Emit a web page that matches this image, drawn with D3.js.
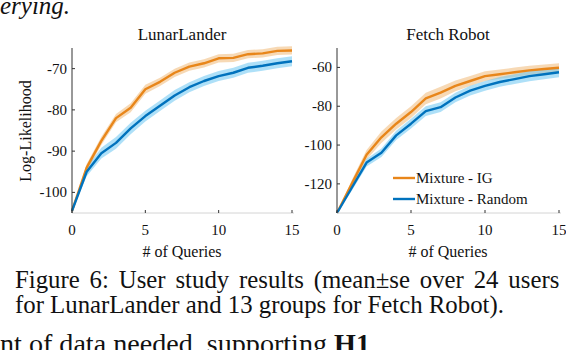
<!DOCTYPE html>
<html>
<head>
<meta charset="utf-8">
<script src="https://cdn.jsdelivr.net/npm/d3@7"></script>
<style>
  body { margin: 0; background: #fff; }
</style>
</head>
<body>
<svg id="fig" width="566" height="350" font-family="'Liberation Serif', 'DejaVu Serif', serif"></svg>
<script>
// data
var queries = d3.range(0, 16);

var lunarIG     = [-104.5, -94, -87.5, -82, -79.5, -75, -73.2, -71, -69.5, -68.7, -67.5, -67.4, -66.5, -66.3, -65.7, -65.6];
var lunarIGse   = [0, 0.9, 1, 1, 1.1, 1.1, 1, 1, 1, 1, 1, 1, 1, 1, 1, 1];
var lunarRand   = [-104.5, -95, -90.5, -88, -84.5, -81.5, -79, -76.5, -74.5, -73, -71.8, -71, -69.8, -69.3, -68.7, -68.2];
var lunarRandSe = [0, 1.1, 1.3, 1.4, 1.4, 1.3, 1.3, 1.3, 1.2, 1.2, 1.2, 1.2, 1.2, 1.2, 1.2, 1.2];

var fetchIG     = [-135, -120, -105, -96, -89, -83, -76, -73, -69.5, -67, -64.5, -63.5, -62.5, -61.5, -60.8, -60.2];
var fetchIGse   = [0, 2, 2.5, 3, 3, 3, 3, 3, 2.8, 2.6, 2.5, 2.4, 2.4, 2.3, 2.3, 2.3];
var fetchRand   = [-135, -122, -109, -104, -95, -89, -82.5, -80.5, -75.5, -72, -69.5, -67.5, -66, -64.5, -63.5, -62.5];
var fetchRandSe = [0, 1.5, 2, 2.2, 2.4, 2.5, 2.5, 2.5, 2.5, 2.5, 2.5, 2.5, 2.5, 2.6, 2.6, 2.6];

var xTicks = [0, 5, 10, 15];
var lunarYTicks = [-100, -90, -80, -70];
var fetchYTicks = [-120, -100, -80, -60];
var seriesNames = ['Mixture - IG', 'Mixture - Random'];

var orange = '#E8861A', orangeBand = '#F0B979';
var blue = '#0072BD', blueBand = '#6CC6F2';
var ink = '#111';

var svg = d3.select('#fig');

var drawPanel = function(opts) {
  var x = d3.scaleLinear().domain([0, 15]).range([opts.left, opts.right]);
  var y = d3.scaleLinear().domain(opts.yDomain).range([213, 48]);
  var g = svg.append('g');

  // bands then lines
  var series = [
    { mean: opts.ig, se: opts.igSe, color: orange, band: orangeBand },
    { mean: opts.rand, se: opts.randSe, color: blue, band: blueBand }
  ];
  var area = d3.area()
    .x(function(d) { return x(d.q); })
    .y0(function(d) { return y(d.m - d.s); })
    .y1(function(d) { return y(d.m + d.s); });
  var line = d3.line()
    .x(function(d) { return x(d.q); })
    .y(function(d) { return y(d.m); });

  var points = function(s) {
    return queries.map(function(q, i) { return { q: q, m: s.mean[i], s: s.se[i] }; });
  };
  series.forEach(function(s) {
    g.append('path').attr('d', area(points(s))).attr('fill', s.band).attr('opacity', 0.55);
  });
  series.forEach(function(s) {
    g.append('path').attr('d', line(points(s))).attr('fill', 'none')
      .attr('stroke', s.color).attr('stroke-width', 2.4).attr('stroke-linejoin', 'round');
  });

  // axes
  g.append('line').attr('x1', opts.left).attr('x2', opts.right + 2)
    .attr('y1', 213).attr('y2', 213).attr('stroke', '#d4d4d4').attr('stroke-width', 1);
  g.append('line').attr('x1', opts.left).attr('x2', opts.left)
    .attr('y1', 48).attr('y2', 213).attr('stroke', '#333').attr('stroke-width', 1);

  xTicks.forEach(function(t) {
    g.append('line').attr('x1', x(t)).attr('x2', x(t)).attr('y1', 213).attr('y2', 210)
      .attr('stroke', '#333');
    g.append('text').attr('x', x(t)).attr('y', 235).attr('text-anchor', 'middle')
      .attr('font-size', 15).attr('fill', ink).text(t);
  });
  opts.yTicks.forEach(function(t) {
    g.append('line').attr('x1', opts.left).attr('x2', opts.left + 3).attr('y1', y(t)).attr('y2', y(t))
      .attr('stroke', '#333');
    g.append('text').attr('x', opts.left - 5).attr('y', y(t) + 5).attr('text-anchor', 'end')
      .attr('font-size', 15).attr('fill', ink).text(t);
  });

  var cx = (opts.left + opts.right) / 2;
  g.append('text').attr('x', cx).attr('y', 40).attr('text-anchor', 'middle')
    .attr('font-size', 17).attr('fill', ink).text(opts.title);
  g.append('text').attr('x', cx).attr('y', 257).attr('text-anchor', 'middle')
    .attr('font-size', 16).attr('fill', ink).text('# of Queries');
};

drawPanel({ left: 72, right: 292, yDomain: [-105, -65], yTicks: lunarYTicks, title: 'LunarLander',
  ig: lunarIG, igSe: lunarIGse, rand: lunarRand, randSe: lunarRandSe });
drawPanel({ left: 337, right: 559, yDomain: [-135, -50], yTicks: fetchYTicks, title: 'Fetch Robot',
  ig: fetchIG, igSe: fetchIGse, rand: fetchRand, randSe: fetchRandSe });

// y label
svg.append('text').attr('transform', 'translate(31,131) rotate(-90)').attr('text-anchor', 'middle')
  .attr('font-size', 16).attr('fill', ink).text('Log-Likelihood');

// legend
var legend = svg.append('g');
[orange, blue].forEach(function(c, i) {
  var ly = 178 + i * 21;
  legend.append('line').attr('x1', 393).attr('x2', 415).attr('y1', ly).attr('y2', ly)
    .attr('stroke', c).attr('stroke-width', 2.4);
  legend.append('text').attr('x', 416).attr('y', ly + 5).attr('font-size', 15)
    .attr('fill', ink).text(seriesNames[i]);
});

// surrounding page text (justified lines get their spaces widened)
var justify = function(sel, width) {
  var natural = sel.node().getComputedTextLength();
  var spaces = sel.text().split(' ').length - 1;
  sel.attr('word-spacing', Math.max(0, (width - natural) / spaces));
};

svg.append('text').attr('x', 0).attr('y', 14).attr('font-size', 25).attr('font-style', 'italic')
  .attr('fill', ink).text('erying.');

var cap1 = svg.append('text').attr('x', 15).attr('y', 288).attr('font-size', 24.8).attr('fill', ink)
  .text('Figure 6:  User study results (mean\u00b1se over 24 users');
justify(cap1, 548);

svg.append('text').attr('x', 15).attr('y', 313).attr('font-size', 24.8).attr('fill', ink)
  .text('for LunarLander and 13 groups for Fetch Robot).');

// next body line, cut by the bottom edge as in the page crop
var last = svg.append('text').attr('x', 0).attr('y', 353).attr('font-size', 26.5).attr('fill', ink)
  .attr('textLength', 370).attr('lengthAdjust', 'spacingAndGlyphs');
last.append('tspan').text('nt of data needed, supporting ');
last.append('tspan').attr('font-weight', 'bold').text('H1');
</script>
</body>
</html>
